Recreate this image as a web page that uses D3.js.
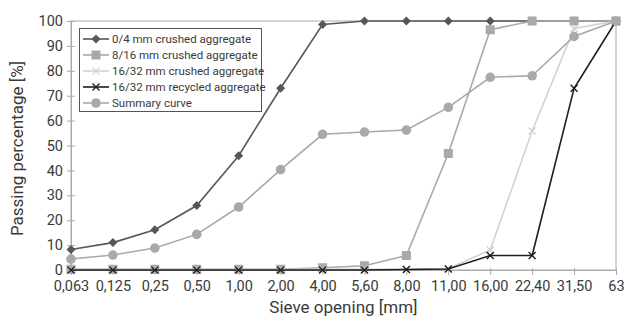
<!DOCTYPE html>
<html><head><meta charset="utf-8">
<script src="https://cdn.jsdelivr.net/npm/d3@7"></script>
<style>body{margin:0;background:#fff}svg{display:block}text{font-family:Roboto,"Noto Sans",sans-serif}</style>
</head><body>
<svg id="chart" width="624" height="320"></svg>
<script>
const categories = ["0,063","0,125","0,25","0,50","1,00","2,00","4,00","5,60","8,00","11,00","16,00","22,40","31,50","63"];
const yTicks = [0,10,20,30,40,50,60,70,80,90,100];
const crushed04 = [8.2,11.0,16.2,25.9,45.9,73.0,98.6,100,100,100,100,100,100,100];
const crushed816 = [0.3,0.3,0.3,0.3,0.3,0.3,0.9,1.7,5.8,46.8,96.5,100,100,100];
const crushed1632 = [0.3,0.3,0.3,0.3,0.3,0.3,0.3,0.3,0.3,0.6,8.0,55.8,97.0,100];
const recycled1632 = [0,0,0,0,0,0,0,0,0.2,0.4,5.8,5.8,73.0,100];
const summary = [4.4,6.0,8.8,14.3,25.3,40.3,54.5,55.4,56.2,65.3,77.4,78.0,93.8,100];
const seriesNames = ["0/4 mm crushed aggregate","8/16 mm crushed aggregate","16/32 mm crushed aggregate","16/32 mm recycled aggregate","Summary curve"];

const series = [
  {name: seriesNames[0], values: crushed04, color: "#575757", marker: "diamond"},
  {name: seriesNames[1], values: crushed816, color: "#a9a9a9", marker: "square"},
  {name: seriesNames[2], values: crushed1632, color: "#d2d2d2", marker: "x"},
  {name: seriesNames[3], values: recycled1632, color: "#1e1e1e", marker: "x"},
  {name: seriesNames[4], values: summary, color: "#a9a9a9", marker: "circle"}
];

const svg = d3.select("#chart");
const L = 71, R = 616, T = 21, B = 270;
const x = d3.scalePoint().domain(categories).range([L, R]).padding(0);
const y = d3.scaleLinear().domain([0, 100]).range([B, T]);
const axisColor = "#aaaaaa";
const textColor = "#3a3a3a";

// frame
svg.append("rect").attr("x", L).attr("y", T).attr("width", R - L).attr("height", B - T)
  .attr("fill", "none").attr("stroke", axisColor).attr("stroke-width", 1);

// y axis
const yAxis = svg.append("g").attr("transform", `translate(${L},0)`)
  .call(d3.axisLeft(y).tickValues(yTicks).tickSize(4).tickSizeOuter(0).tickPadding(4));
yAxis.select(".domain").attr("stroke", axisColor);
yAxis.selectAll(".tick line").attr("stroke", axisColor).attr("x2", 4).attr("x1", -4);
yAxis.selectAll(".tick text").attr("fill", textColor).style("font-size", "14.5px").style("font-family", "Roboto");

// x axis
const xAxis = svg.append("g").attr("transform", `translate(0,${B})`)
  .call(d3.axisBottom(x).tickSize(5).tickSizeOuter(0).tickPadding(6));
xAxis.select(".domain").attr("stroke", axisColor);
xAxis.selectAll(".tick line").attr("stroke", axisColor).attr("y1", -2).attr("y2", 5);
xAxis.selectAll(".tick text").attr("fill", textColor).style("font-size", "14.5px").style("font-family", "Roboto");

// titles
svg.append("text").attr("x", (L + R) / 2).attr("y", 313).attr("text-anchor", "middle")
  .attr("fill", textColor).style("font-size", "17px").text("Sieve opening [mm]");
svg.append("text").attr("transform", `translate(23,${(T + B) / 2 + 3}) rotate(-90)`).attr("text-anchor", "middle")
  .attr("fill", textColor).style("font-size", "17px").text("Passing percentage [%]");

const line = d3.line().x((d, i) => x(categories[i])).y(d => y(d));

function drawMarker(g, type, cx, cy, color) {
  if (type === "diamond") {
    g.append("path").attr("d", `M${cx},${cy-4.5}L${cx+4.5},${cy}L${cx},${cy+4.5}L${cx-4.5},${cy}Z`).attr("fill", color);
  } else if (type === "square") {
    g.append("rect").attr("x", cx - 4.5).attr("y", cy - 4.5).attr("width", 9).attr("height", 9).attr("fill", color);
  } else if (type === "circle") {
    g.append("circle").attr("cx", cx).attr("cy", cy).attr("r", 4.8).attr("fill", color);
  } else if (type === "x") {
    g.append("path").attr("d", `M${cx-3.5},${cy-3.5}L${cx+3.5},${cy+3.5}M${cx-3.5},${cy+3.5}L${cx+3.5},${cy-3.5}`)
      .attr("stroke", color).attr("stroke-width", 1.4).attr("fill", "none");
  }
}

series.forEach(s => {
  const g = svg.append("g");
  g.append("path").datum(s.values).attr("d", line).attr("fill", "none")
    .attr("stroke", s.color).attr("stroke-width", 1.6);
  s.values.forEach((v, i) => drawMarker(g, s.marker, x(categories[i]), y(v), s.color));
});

// legend
const lg = svg.append("g");
lg.append("rect").attr("x", 79.5).attr("y", 28.5).attr("width", 182).attr("height", 83)
  .attr("fill", "#fff").attr("stroke", "#555").attr("stroke-width", 1);
series.forEach((s, i) => {
  const yy = 39 + i * 16;
  lg.append("line").attr("x1", 83).attr("x2", 109).attr("y1", yy).attr("y2", yy)
    .attr("stroke", s.color).attr("stroke-width", 1.6);
  drawMarker(lg, s.marker, 96, yy, s.color);
  lg.append("text").attr("x", 112).attr("y", yy + 4).attr("fill", textColor)
    .style("font-size", "11.5px").text(s.name);
});
</script>
</body></html>
